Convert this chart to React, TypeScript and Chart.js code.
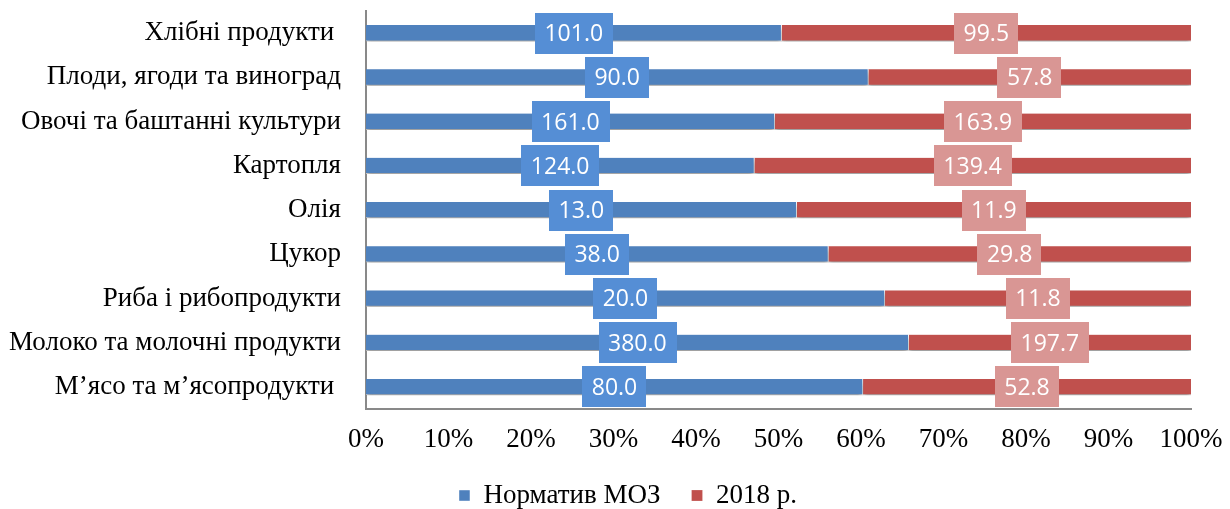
import React, { useEffect, useRef } from 'react';
import { Chart, registerables } from 'chart.js';

Chart.register(...registerables);

const categories = [
  'Хлібні продукти ',
  'Плоди, ягоди та виноград',
  'Овочі та баштанні культури',
  'Картопля',
  'Олія',
  'Цукор',
  'Риба і рибопродукти',
  'Молоко та молочні продукти',
  'М’ясо та м’ясопродукти ',
];
const normValues = [101.0, 90.0, 161.0, 124.0, 13.0, 38.0, 20.0, 380.0, 80.0];
const values2018 = [99.5, 57.8, 163.9, 139.4, 11.9, 29.8, 11.8, 197.7, 52.8];
const seriesNames = ['Норматив МОЗ', '2018 р.'];
const xTickStep = 10;

const barColors = ['#4f81bd', '#c0504d'];
const labelBoxColors = ['#558ed5', '#d99694'];

const rawSeries = [normValues, values2018];
const totals = normValues.map((v, i) => v + values2018[i]);
const normShare = normValues.map((v, i) => (v / totals[i]) * 100);
const share2018 = values2018.map((v, i) => (v / totals[i]) * 100);

const SERIF = '"Liberation Serif", "Times New Roman", serif';

const labelPlugin = {
  id: 'boxLabels',
  afterLayout(chart: any) {
    const lg = chart.legend;
    if (lg) {
      lg.left += 13;
      lg.right += 13;
    }
  },
  beforeDatasetsDraw(chart: any) {
    const ctx = chart.ctx;
    ctx.save();
    ctx.shadowColor = 'rgba(0,0,0,0.4)';
    ctx.shadowOffsetY = 4;
    ctx.shadowOffsetX = 0;
    ctx.shadowBlur = 5;
  },
  afterDatasetsDraw(chart: any) {
    const ctx = chart.ctx;
    ctx.restore();
    ctx.save();
    ctx.font = '23px "Open Sans", sans-serif';
    ctx.textAlign = 'center';
    ctx.textBaseline = 'middle';
    chart.data.datasets.forEach((ds: any, di: number) => {
      const meta = chart.getDatasetMeta(di);
      if (meta.hidden) return;
      meta.data.forEach((el: any, j: number) => {
        const p = el.getProps(['x', 'y', 'base'], true);
        const cx = (p.x + p.base) / 2;
        const text = rawSeries[di][j].toFixed(1);
        const w = ctx.measureText(text).width + 19;
        const h = 41;
        ctx.fillStyle = labelBoxColors[di];
        ctx.fillRect(Math.round(cx - w / 2), Math.round(p.y - h / 2), Math.round(w), h);
        ctx.fillStyle = '#ffffff';
        ctx.fillText(text, cx, p.y + 1.5);
      });
    });
    ctx.restore();
  },
};

export default function App() {
  const canvasRef = useRef<HTMLCanvasElement | null>(null);

  useEffect(() => {
    document.body.style.margin = '0';
    const canvas = canvasRef.current;
    if (!canvas) return;
    const chart = new Chart(canvas, {
      type: 'bar',
      data: {
        labels: categories,
        datasets: [
          {
            label: seriesNames[0],
            data: normShare,
            backgroundColor: barColors[0],
            borderColor: 'rgba(255,255,255,0.85)',
            borderWidth: { top: 0, bottom: 1, left: 0, right: 1 },
            borderSkipped: false,
            barThickness: 16,
          },
          {
            label: seriesNames[1],
            data: share2018,
            backgroundColor: barColors[1],
            borderColor: 'rgba(255,255,255,0.85)',
            borderWidth: { top: 0, bottom: 1, left: 0, right: 0 },
            borderSkipped: false,
            barThickness: 16,
          },
        ],
      },
      options: {
        indexAxis: 'y',
        animation: false,
        responsive: true,
        maintainAspectRatio: false,
        layout: { padding: { top: 11, left: 0, right: 0, bottom: 0 } },
        scales: {
          x: {
            stacked: true,
            min: 0,
            max: 100,
            grid: { display: false, drawTicks: false },
            border: { display: true, color: '#898989', width: 2 },
            ticks: {
              stepSize: xTickStep,
              padding: 15,
              color: '#000000',
              font: { family: SERIF, size: 27 },
              callback: (v: any) => `${v}%`,
              maxRotation: 0,
            },
            afterFit: (s: any) => {
              s.height = 42;
              s.paddingLeft = 0;
              s.paddingRight = 39;
            },
          },
          y: {
            stacked: true,
            grid: { display: false, drawTicks: false },
            border: { display: true, color: '#898989', width: 2 },
            ticks: {
              padding: 25,
              color: '#000000',
              font: { family: SERIF, size: 27 },
              autoSkip: false,
            },
            afterFit: (s: any) => {
              s.width = 366;
              s.paddingTop = 0;
              s.paddingBottom = 0;
            },
          },
        },
        plugins: {
          legend: {
            position: 'bottom',
            maxHeight: 58,
            labels: {
              boxWidth: 11,
              boxHeight: 11,
              padding: 31,
              color: '#000000',
              font: { family: SERIF, size: 27 },
            },
          },
          tooltip: { enabled: false },
        },
      },
      plugins: [labelPlugin],
    });
    return () => chart.destroy();
  }, []);

  return (
    <div style={{ width: 1230, height: 509, position: 'relative' }}>
      <canvas ref={canvasRef} />
    </div>
  );
}
